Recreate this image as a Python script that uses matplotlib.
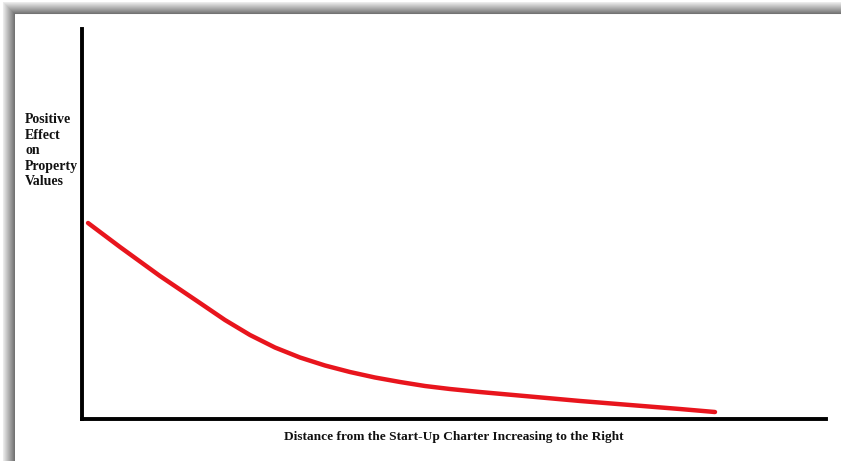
import numpy as np
import matplotlib.pyplot as plt

# curve (axes run 0..100 on both sides)
distance = [0.81, 5.11, 10.48, 15.86, 19.22, 22.58, 25.94, 29.30, 32.66, 36.02,
            39.38, 42.74, 46.10, 49.46, 53.49, 60.22, 66.94, 73.66, 80.38, 85.08]
effect = [50.26, 44.10, 36.67, 29.74, 25.38, 21.54, 18.33, 15.77, 13.72, 12.05,
          10.64, 9.49, 8.46, 7.69, 6.92, 5.77, 4.62, 3.59, 2.56, 1.79]

ylabel = "Positive\nEffect\non\nProperty\nValues"
xlabel = "Distance from the Start-Up Charter Increasing to the Right"

W, H = 841, 461
fig = plt.figure(figsize=(W / 100, H / 100), dpi=100)

### grey drop shadow along the top and left edge
bg = np.ones((H, W))
edge = 3
depth = 12
for i in range(depth):
    v = 0.92 - 0.47 * (i / (depth - 1))
    bg[edge + i, edge + i:] = np.minimum(bg[edge + i, edge + i:], v)
    bg[edge + i:, edge + i] = np.minimum(bg[edge + i:, edge + i], v)
bax = fig.add_axes([0, 0, 1, 1])
bax.imshow(bg, cmap='gray', vmin=0, vmax=1, aspect='auto', interpolation='bilinear')
bax.axis('off')

### the chart itself
x0, x1, ytop, y0 = 82, 826, 29, 419
ax = fig.add_axes([x0 / W, (H - y0) / H, (x1 - x0) / W, (y0 - ytop) / H])
ax.patch.set_alpha(0)
ax.plot(distance, effect, color='#e8151d', lw=3.2, solid_capstyle='round',
        solid_joinstyle='round')
ax.set_xlim(0, 100)
ax.set_ylim(0, 100)
ax.set_xticks([])
ax.set_yticks([])
for s in ['top', 'right']:
    ax.spines[s].set_visible(False)
for s in ['left', 'bottom']:
    ax.spines[s].set_linewidth(2.8)
    ax.spines[s].set_color('black')

fig.text(25 / W, 1 - 113 / H, ylabel, family='Liberation Serif', weight='bold',
         fontsize=10, va='top', ha='left', linespacing=1.26, color='#111111')
fig.text(454 / W, 1 - 437 / H, xlabel, family='Liberation Serif', weight='bold',
         fontsize=9.6, va='center', ha='center', color='#111111')

fig.savefig('out.png', dpi=100)
